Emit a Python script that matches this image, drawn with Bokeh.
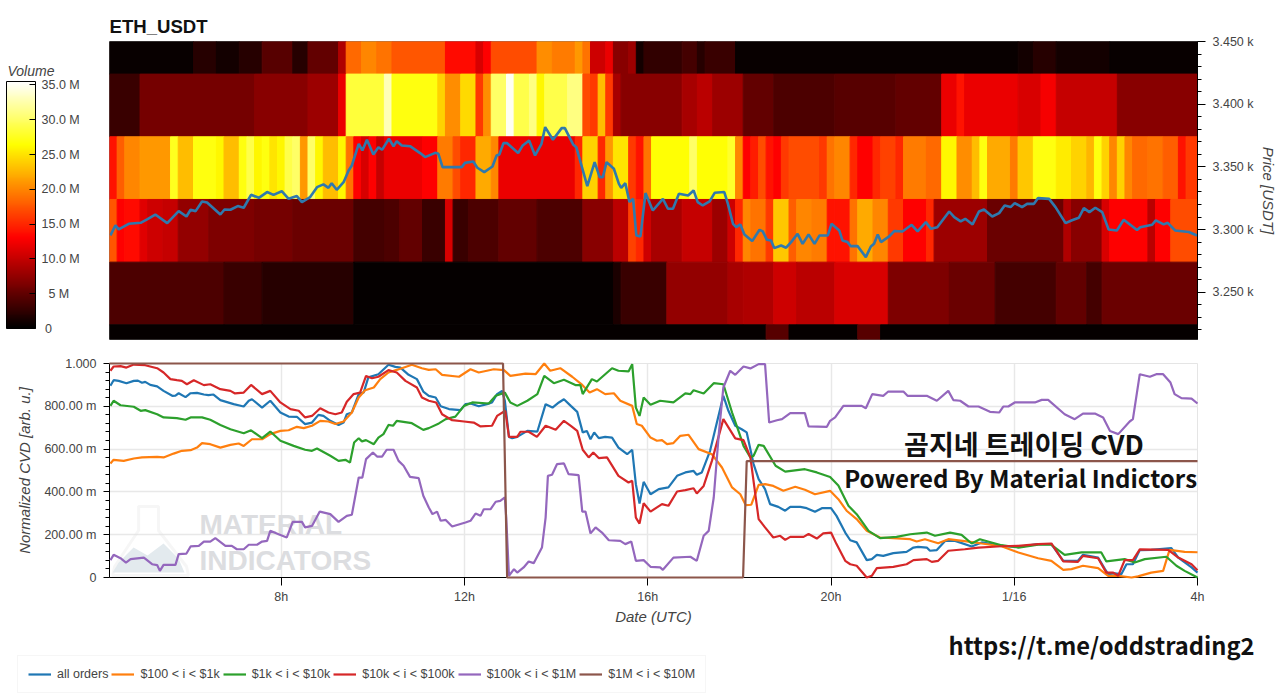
from bokeh.embed import file_html
from bokeh.layouts import column, row
from bokeh.models import (ColorBar, ColumnDataSource, FixedTicker, Label, Legend, LegendItem,
                          LinearColorMapper, PolyAnnotation)
from bokeh.plotting import figure
from bokeh.resources import INLINE

# ---- heat map: 10-minute bins, one list of run starts + volumes (millions) per price band
band_edges = [3450, 3424, 3374, 3324, 3274, 3224, 3212.3]
bins_total = 143

band1_start = [0, 11, 14, 17, 20, 24, 26, 30, 31, 33, 35, 37, 44, 48, 49, 50, 56, 58, 61, 62, 63, 65, 66, 68, 69, 70, 75, 77, 78, 82, 119, 121, 124, 131]
band1_vol = [.5, 2, 1, 2, 4.5, 2, 5, 9, 18.5, 20, 19, 17.5, 13.5, 11, 13, 17, 20.5, 19.5, 21, 19, 10.5, 12, 7, 8, 1, 2.5, 3.5, 2, 3, .5, 1, 2, 1, .5]

band2_start = [0, 4, 19, 26, 30, 31, 36, 37, 43, 44, 46, 48, 49, 50, 52, 53, 55, 56, 57, 60, 62, 63, 64, 65, 66, 67, 75, 77, 79, 83, 87, 95, 103, 109, 111, 112, 119, 122, 124, 132]
band2_vol = [3, 6, 7, 8, 12, 28.5, 33, 27, 24, 20.5, 24.5, 16, 20.5, 30, 35, 29, 31, 26, 29, 31, 17, 16, 23, 16, 8.5, 7, 8.5, 9.5, 8, 5, 4, 4.5, 5, 12, 14, 12, 11, 12.5, 10, 7]

band3_start = [0, 1, 2, 4, 8, 9, 11, 14, 15, 17, 18, 19, 20, 21, 22, 23, 24, 25, 26, 27, 28, 30, 31, 32, 33, 34, 35, 36, 41, 43, 45, 46, 48, 50, 51, 61, 62, 64, 65, 66, 68, 69, 70, 71, 76, 77, 81, 82, 83, 84, 85, 86, 87, 88, 89, 93, 94, 95, 97, 98, 100, 101, 103, 104, 107, 109, 111, 113, 114, 115, 118, 119, 121, 124, 126, 128, 129, 130, 131, 132, 133, 134, 136, 138, 140, 141]
band3_vol = [14, 18, 20, 21, 27.5, 23, 27, 26, 23, 27, 29, 26, 27, 25, 26, 29, 30, 21, 30, 26, 23, 26, 19, 13, 11, 13, 10, 12, 13, 19.5, 17, 15, 22, 20, 12, 15, 24, 15, 21, 25, 16, 14, 19, 26.5, 30, 26.5, 28, 20, 13, 14.5, 17, 14, 13, 16, 17, 16, 19, 20, 15, 13, 15, 16.5, 15, 19.5, 18.5, 26, 20.5, 23, 27, 22, 19.5, 23.5, 27, 25.5, 24, 22.5, 27, 24, 20, 24, 20, 18.5, 19, 18, 14, 16]

band4_start = [0, 1, 2, 4, 5, 7, 9, 13, 19, 24, 32, 36, 38, 41, 44, 45, 47, 51, 56, 62, 66, 68, 69, 70, 71, 75, 79, 81, 82, 83, 84, 86, 87, 89, 90, 92, 94, 95, 97, 98, 100, 102, 104, 107, 108, 115, 125, 126, 130, 131, 136, 137, 139]
band4_vol = [17.5, 13, 13.5, 11.5, 10.5, 10, 7.5, 6.5, 6, 5.5, 3.5, 4, 5, 3, 11, 3, 4, 5, 4, 7, 9.5, 16.5, 15, 10.5, 8.5, 10, 8, 10.5, 15, 20, 19, 16, 23.5, 18, 20, 19.5, 14, 14, 19, 22, 20, 16, 13, 15, 8, 5.5, 9, 7, 11, 13, 9.5, 13, 17]

band5_start = [0, 15, 20, 32, 66, 67, 73, 81, 83, 87, 90, 95, 102, 110, 116, 124, 128, 130]
band5_vol = [4, 3, 2, .4, 1.5, 3, 7.5, 8.5, 9, 10.5, 9.5, 11, 6.5, 5.5, 3.5, 5, 3.5, 5.5]

band6_start = [0, 86, 89, 98, 101]
band6_vol = [.3, 4.5, .3, 4.5, .3]

# ---- price line
price_hours = [4.27, 4.38, 4.45, 4.67, 4.93, 5.07, 5.25, 5.51, 5.76, 5.93, 6.02, 6.13, 6.27, 6.38, 6.67, 6.76, 6.89, 7.05, 7.18, 7.34, 7.51, 7.69, 7.83, 8.01, 8.16, 8.34, 8.45, 8.63, 8.78, 8.92, 9.03, 9.1, 9.21, 9.36, 9.47, 9.54, 9.69, 9.77, 9.87, 10.01, 10.12, 10.2, 10.35, 10.45, 10.52, 10.63, 10.81, 11.03, 11.14, 11.36, 11.43, 11.52, 11.94, 12.01, 12.19, 12.28, 12.43, 12.61, 12.7, 12.76, 12.85, 12.93, 13.17, 13.27, 13.41, 13.54, 13.68, 13.76, 13.93, 14.12, 14.19, 14.37, 14.44, 14.68, 14.84, 14.95, 15.02, 15.1, 15.26, 15.37, 15.42, 15.51, 15.6, 15.68, 15.75, 15.84, 15.95, 16.11, 16.33, 16.44, 16.55, 16.68, 16.88, 17, 17.09, 17.2, 17.35, 17.46, 17.67, 17.75, 17.86, 17.93, 18.02, 18.11, 18.28, 18.44, 18.51, 18.6, 18.69, 18.76, 18.91, 19.02, 19.13, 19.27, 19.38, 19.51, 19.64, 19.75, 19.93, 20.01, 20.18, 20.25, 20.36, 20.43, 20.58, 20.76, 20.87, 20.94, 21.02, 21.09, 21.27, 21.38, 21.56, 21.76, 21.89, 22.07, 22.18, 22.32, 22.58, 22.69, 22.83, 22.93, 23.09, 23.23, 23.34, 23.52, 23.67, 23.79, 23.92, 24.01, 24.17, 24.28, 24.43, 24.52, 24.76, 24.9, 25.12, 25.26, 25.41, 25.52, 25.64, 25.77, 25.92, 26.06, 26.24, 26.39, 26.68, 26.75, 27.01, 27.09, 27.26, 27.35, 27.51, 27.81, 27.99]
price_usdt = [3295.3, 3303.3, 3300.1, 3304.6, 3305.4, 3308.1, 3312, 3305.1, 3314.7, 3310.4, 3315.8, 3314.7, 3322.4, 3321.6, 3312, 3316, 3315.8, 3318.7, 3317.4, 3327.7, 3325.3, 3329.9, 3327.7, 3330.6, 3324.5, 3326.7, 3321.9, 3325.9, 3333.8, 3336, 3333.3, 3337, 3331.7, 3337.8, 3347.1, 3351.1, 3368.4, 3363.1, 3371.6, 3359.9, 3365.7, 3363.6, 3372.4, 3366.3, 3370.5, 3367.1, 3366.5, 3361, 3357.8, 3361.2, 3360.4, 3349.8, 3349.8, 3353.2, 3354.3, 3349.3, 3345.8, 3350.3, 3359.1, 3359.9, 3368.9, 3368.9, 3361, 3367.1, 3371.1, 3359.1, 3368.4, 3381.7, 3371.6, 3380.9, 3380.9, 3367.9, 3365.7, 3334.6, 3353.8, 3341.8, 3341.8, 3353.8, 3348.5, 3336.5, 3333.3, 3337, 3321.9, 3324.5, 3295.3, 3294.5, 3329.1, 3315.2, 3324.5, 3316.6, 3316.6, 3328.5, 3327.2, 3331.2, 3321.9, 3319.2, 3322.4, 3329.3, 3329.9, 3320.5, 3304.6, 3301.9, 3304.1, 3296.1, 3290.8, 3299.8, 3298.5, 3291.8, 3291.3, 3285.2, 3287.3, 3285.5, 3290, 3296.6, 3288.6, 3296, 3288.6, 3295.3, 3295.3, 3304.6, 3299.3, 3291.3, 3290, 3286.8, 3286.8, 3278, 3286.5, 3288.6, 3296.1, 3290, 3294.5, 3298.8, 3298.5, 3303.8, 3298.5, 3305.9, 3300.6, 3301.9, 3314.4, 3309.9, 3306.5, 3308.6, 3304.1, 3314.4, 3316, 3310.4, 3313.1, 3319.2, 3317.9, 3321.1, 3317.9, 3320.5, 3320.5, 3325.1, 3324.5, 3317.9, 3305.1, 3307.4, 3309.4, 3317.1, 3313.9, 3317.4, 3313.9, 3300.1, 3299.3, 3307.8, 3299.6, 3301.9, 3303.8, 3307.3, 3304.1, 3305.4, 3299.3, 3298, 3295.3]

# ---- normalised CVD series
all_hours = [4.27, 4.34, 4.45, 4.62, 4.78, 4.87, 4.96, 5.03, 5.14, 5.29, 5.43, 5.62, 5.69, 5.76, 5.91, 6.02, 6.16, 6.31, 6.41, 6.52, 6.67, 6.96, 7.18, 7.29, 7.36, 7.58, 7.76, 7.98, 8.16, 8.34, 8.52, 8.67, 8.81, 8.92, 9.07, 9.25, 9.36, 9.43, 9.54, 9.69, 9.8, 9.9, 10.12, 10.34, 10.49, 10.6, 10.78, 10.96, 11.1, 11.22, 11.37, 11.48, 11.66, 11.91, 12.02, 12.13, 12.31, 12.49, 12.6, 12.71, 12.82, 12.88, 12.97, 13.04, 13.15, 13.37, 13.59, 13.77, 13.92, 14.06, 14.17, 14.32, 14.46, 14.58, 14.67, 14.75, 14.83, 14.93, 15.07, 15.22, 15.36, 15.55, 15.66, 15.74, 15.82, 15.91, 16.06, 16.24, 16.45, 16.64, 16.82, 17, 17.07, 17.18, 17.36, 17.65, 17.76, 17.91, 18.05, 18.16, 18.31, 18.42, 18.56, 18.67, 18.85, 19, 19.11, 19.33, 19.47, 19.65, 19.8, 20, 20.12, 20.31, 20.42, 20.56, 20.78, 20.89, 21, 21.14, 21.36, 21.65, 21.8, 21.9, 22.09, 22.16, 22.31, 22.49, 22.71, 23.07, 23.29, 23.72, 24.09, 24.52, 24.81, 25.07, 25.39, 25.5, 25.83, 25.98, 26.05, 26.19, 26.34, 26.45, 26.59, 26.74, 26.99, 27.43, 27.58, 27.87, 28]
all_cvd = [.896, .922, .919, .908, .919, .92, .91, .914, .9, .893, .872, .849, .85, .861, .843, .861, .863, .855, .852, .855, .829, .81, .799, .826, .833, .794, .826, .771, .752, .751, .717, .724, .76, .755, .732, .713, .724, .763, .771, .857, .865, .935, .95, .994, .984, .981, .947, .927, .869, .849, .841, .8, .787, .782, .81, .813, .8, .81, .818, .857, .872, .826, .657, .651, .657, .685, .682, .81, .794, .818, .833, .802, .774, .678, .685, .646, .678, .651, .657, .654, .607, .576, .597, .436, .346, .447, .389, .413, .421, .475, .491, .498, .48, .491, .592, .849, .779, .709, .693, .678, .53, .46, .413, .343, .33, .312, .33, .33, .324, .307, .324, .324, .288, .21, .174, .164, .081, .086, .106, .101, .114, .12, .14, .143, .14, .125, .128, .171, .171, .145, .164, .148, .143, .156, .156, .078, .078, .106, .093, .039, .016, .019, .016, .062, .062, .128, .129, .137, .093, .047, .023]

s100_hours = [4.27, 4.34, 4.56, 4.78, 4.96, 5.29, 5.43, 5.65, 5.83, 6.02, 6.16, 6.27, 6.45, 6.67, 6.89, 7.07, 7.18, 7.36, 7.58, 7.76, 7.98, 8.16, 8.34, 8.49, 8.67, 8.85, 9.03, 9.18, 9.36, 9.54, 9.69, 9.83, 10.02, 10.16, 10.34, 10.52, 10.71, 10.85, 11.07, 11.22, 11.37, 11.51, 11.88, 12.13, 12.31, 12.64, 12.86, 13, 13.33, 13.55, 13.74, 13.87, 14.09, 14.35, 14.57, 14.73, 14.89, 15.07, 15.26, 15.4, 15.66, 15.76, 15.87, 16.06, 16.2, 16.31, 16.42, 16.56, 16.71, 16.89, 17.11, 17.4, 17.62, 17.84, 18.02, 18.14, 18.26, 18.42, 18.56, 18.74, 18.96, 19.22, 19.43, 19.65, 19.98, 20.16, 20.34, 20.56, 20.78, 20.93, 21.07, 21.73, 21.87, 22.05, 22.34, 22.56, 23, 23.29, 23.72, 24.09, 24.52, 24.81, 25.07, 25.25, 25.5, 25.83, 26.05, 26.27, 26.56, 26.7, 26.99, 27.25, 27.39, 27.72, 28]
s100_cvd = [.533, .55, .545, .556, .561, .564, .561, .579, .592, .595, .607, .628, .623, .607, .62, .626, .615, .646, .646, .67, .685, .688, .704, .698, .709, .732, .729, .717, .729, .771, .841, .875, .888, .927, .958, .97, .984, .994, .978, .97, .973, .947, .938, .973, .958, .973, .969, .942, .953, .95, 1.0, .966, .978, .938, .9, .864, .88, .857, .861, .826, .802, .717, .709, .654, .639, .642, .623, .628, .662, .667, .6, .576, .514, .421, .389, .338, .34, .433, .436, .428, .405, .424, .41, .389, .405, .366, .312, .273, .218, .202, .187, .179, .168, .179, .16, .179, .168, .159, .146, .117, .09, .078, .036, .039, .055, .044, .008, .008, 0, .005, .023, .031, .129, .12, .118]

s1k_hours = [4.27, 4.34, 4.49, 4.78, 4.93, 5.03, 5.29, 5.43, 5.72, 5.91, 6.02, 6.27, 6.45, 6.67, 6.89, 7.18, 7.34, 7.58, 7.76, 7.98, 8.27, 8.52, 8.67, 8.78, 9.07, 9.25, 9.4, 9.5, 9.59, 9.69, 9.76, 9.85, 10.02, 10.12, 10.23, 10.34, 10.44, 10.52, 10.85, 11.1, 11.22, 11.44, 11.59, 11.8, 11.99, 12.17, 12.53, 12.68, 12.88, 13, 13.15, 13.37, 13.59, 13.74, 13.95, 14.17, 14.42, 14.53, 14.58, 14.78, 14.89, 15.22, 15.36, 15.58, 15.66, 15.74, 15.82, 15.91, 16.06, 16.27, 16.56, 16.82, 16.93, 17, 17.22, 17.44, 17.65, 17.84, 17.98, 18.09, 18.24, 18.31, 18.42, 18.53, 18.79, 19, 19.43, 19.69, 19.98, 20.16, 20.38, 20.56, 20.82, 21.07, 21.43, 21.73, 22.09, 22.27, 22.6, 22.85, 23.07, 23.25, 23.72, 24.09, 24.52, 24.81, 25.1, 25.47, 25.9, 26.01, 26.41, 26.63, 26.85, 27.32, 27.54, 27.72, 28]
s1k_cvd = [.802, .826, .805, .798, .779, .782, .763, .748, .745, .737, .748, .748, .737, .713, .693, .674, .688, .651, .682, .639, .615, .597, .592, .603, .569, .545, .55, .537, .631, .651, .636, .642, .623, .654, .67, .713, .709, .732, .721, .69, .698, .72, .74, .752, .802, .818, .813, .849, .864, .818, .802, .826, .857, .942, .908, .924, .899, .899, .857, .927, .916, .978, .966, .963, .997, .794, .755, .841, .807, .826, .818, .86, .857, .875, .86, .908, .903, .771, .685, .615, .561, .569, .62, .615, .522, .495, .506, .491, .47, .43, .335, .296, .218, .184, .19, .202, .21, .195, .21, .199, .159, .179, .151, .14, .153, .153, .106, .117, .117, .075, .086, .07, .086, .097, .055, .031, 0]

s10k_hours = [4.27, 4.34, 4.49, 4.62, 4.78, 5.03, 5.29, 5.43, 5.58, 5.72, 5.83, 5.94, 6.09, 6.31, 6.45, 6.67, 6.89, 6.99, 7.18, 7.34, 7.58, 7.76, 7.98, 8.2, 8.38, 8.52, 8.67, 8.85, 9.03, 9.18, 9.32, 9.43, 9.58, 9.72, 9.85, 9.98, 10.12, 10.34, 10.52, 10.71, 10.96, 11.07, 11.22, 11.38, 11.51, 11.73, 11.99, 12.2, 12.35, 12.6, 12.71, 12.89, 12.97, 13.15, 13.22, 13.4, 13.58, 13.77, 13.99, 14.17, 14.32, 14.46, 14.58, 14.71, 14.81, 14.93, 15.11, 15.36, 15.58, 15.66, 15.74, 15.82, 15.91, 16.06, 16.31, 16.45, 16.64, 16.82, 17, 17.07, 17.22, 17.4, 17.65, 17.91, 18.09, 18.24, 18.42, 18.56, 18.74, 18.89, 19, 19.11, 19.4, 19.51, 19.69, 19.83, 20, 20.12, 20.31, 20.42, 20.56, 20.78, 20.89, 21, 21.36, 21.65, 21.8, 22.09, 22.2, 22.34, 22.56, 22.92, 23.22, 23.72, 24.09, 24.52, 24.81, 25.07, 25.39, 25.5, 25.83, 26.01, 26.16, 26.27, 26.41, 26.59, 26.74, 27.36, 27.58, 27.87, 28]
s10k_cvd = [.966, .986, .988, .981, .995, .992, .978, .958, .927, .922, .919, .903, .922, .899, .903, .88, .872, .86, .864, .9, .857, .872, .818, .787, .779, .748, .755, .791, .771, .763, .771, .821, .857, .864, .942, .931, .938, .969, .958, .919, .888, .841, .826, .818, .763, .735, .729, .724, .706, .709, .755, .779, .657, .657, .681, .681, .657, .709, .69, .732, .709, .685, .597, .561, .584, .558, .561, .475, .444, .452, .28, .252, .347, .308, .343, .335, .402, .408, .417, .393, .428, .545, .74, .65, .642, .561, .273, .234, .187, .195, .176, .19, .19, .203, .182, .206, .21, .156, .078, .062, .055, 0, .008, .044, .05, .062, .081, .086, .073, .078, .125, .132, .14, .146, .148, .156, .159, .075, .073, .101, .09, .023, .023, .008, .081, .081, .131, .129, .093, .062, .034]

s100k_hours = [4.27, 4.34, 4.49, 4.61, 4.71, 5, 5.18, 5.29, 5.35, 5.43, 5.69, 5.76, 5.93, 6.02, 6.2, 6.31, 6.45, 6.56, 6.78, 6.92, 7.03, 7.18, 7.29, 7.47, 7.58, 7.69, 7.76, 7.94, 8.12, 8.25, 8.45, 8.52, 8.67, 8.84, 9.07, 9.25, 9.43, 9.54, 9.69, 9.77, 9.85, 10, 10.09, 10.2, 10.3, 10.45, 10.56, 10.67, 10.81, 11, 11.1, 11.22, 11.3, 11.4, 11.48, 11.59, 11.73, 12.02, 12.13, 12.24, 12.35, 12.42, 12.57, 12.68, 12.78, 12.88, 12.91, 12.97, 13.08, 13.15, 13.29, 13.4, 13.51, 13.69, 13.77, 13.82, 13.91, 14.02, 14.17, 14.27, 14.49, 14.57, 14.64, 14.75, 14.86, 15, 15.15, 15.4, 15.51, 15.64, 15.74, 15.91, 16.06, 16.27, 16.33, 16.56, 16.93, 17.07, 17.22, 17.33, 17.44, 17.55, 17.65, 17.8, 17.91, 18.09, 18.24, 18.42, 18.56, 18.65, 18.82, 18.93, 19.11, 19.43, 19.51, 19.91, 19.98, 20.09, 20.27, 20.67, 20.76, 20.9, 21.14, 21.25, 21.58, 21.67, 22.09, 22.31, 22.56, 22.67, 22.82, 23, 23.22, 23.47, 23.67, 23.76, 23.87, 24.01, 24.45, 24.6, 24.74, 25.1, 25.32, 25.5, 25.76, 25.94, 26.09, 26.27, 26.52, 26.59, 26.74, 26.96, 27.1, 27.25, 27.41, 27.5, 27.65, 27.87, 28]
s100k_cvd = [.081, .106, .09, .07, .086, .093, .062, .058, .031, .059, .059, .109, .112, .145, .148, .168, .168, .184, .148, .148, .132, .132, .153, .153, .168, .171, .218, .202, .187, .26, .26, .234, .241, .308, .296, .26, .288, .293, .467, .467, .553, .584, .565, .565, .597, .597, .545, .522, .47, .464, .382, .327, .296, .308, .265, .269, .238, .257, .265, .299, .288, .319, .319, .354, .358, .374, .28, .008, .039, .023, .047, .075, .067, .14, .28, .475, .48, .53, .533, .483, .478, .308, .308, .206, .234, .21, .174, .171, .156, .168, .078, .081, .05, .047, .036, .093, .097, .078, .195, .218, .374, .67, .888, .966, .947, .986, .977, .997, .997, .724, .735, .74, .768, .768, .706, .704, .732, .748, .802, .802, .791, .857, .849, .869, .869, .849, .849, .826, .872, .829, .826, .799, .799, .774, .771, .799, .799, .818, .818, .83, .83, .763, .74, .766, .766, .748, .685, .67, .729, .74, .95, .938, .95, .95, .911, .857, .838, .836, .813]

s1m_hours = [4.25, 12.84, 12.93, 18.08, 18.16, 28]
s1m_cvd = [1, 1, 0, 0, .544, .544]

series_names = ["all orders", "$100 < i < $1k", "$1k < i < $10k", "$10k < i < $100k", "$100k < i < $1M", "$1M < i < $10M"]

cvd_ticks = [0, .2, .4, .6, .8, 1]
cvd_labels = ["0", "200.00 m", "400.00 m", "600.00 m", "800.00 m", "1.000"]
price_ticks = [3250, 3300, 3350, 3400, 3450]
price_labels = ["3.250 k", "3.300 k", "3.350 k", "3.400 k", "3.450 k"]
hour_ticks = [8, 12, 16, 20, 24, 28]
hour_labels = ["8h", "12h", "16h", "20h", "1/16", "4h"]
vol_ticks = [0, 5, 10, 15, 20, 25, 30, 35]
vol_labels = ["\u00a00", "\u00a0\u00a05 M", "10.0 M", "15.0 M", "20.0 M", "25.0 M", "30.0 M", "35.0 M"]

COLORS = ["#1f77b4", "#ff7f0e", "#2ca02c", "#d62728", "#9467bd", "#8c564b"]
SANS = "Liberation Sans"
KOREAN = "Noto Sans CJK KR"
GREY = "#444444"
START = 4.25
END = 28.0


def hot(n=256):
    out = []
    for i in range(n):
        t = i / (n - 1)
        r = min(1, t / 0.365)
        g = min(1, max(0, (t - 0.365) / 0.38))
        b = min(1, max(0, (t - 0.745) / 0.255))
        out.append("#%02x%02x%02x" % (int(r * 255), int(g * 255), int(b * 255)))
    return out


def px_x(x):  # reference pixel -> hours, for decorations only
    return 8 + (x - 281) / 45.9


def px_y(y):  # reference pixel -> CVD axis, for decorations only
    return (577 - y) / 214


mapper = LinearColorMapper(palette=hot(), low=0, high=35.5)

# ---- top panel
top = figure(width=1280, height=351, output_backend="svg", toolbar_location=None,
             x_range=(START, END), y_range=(3212.3, 3450), x_axis_location=None,
             y_axis_location="right", min_border_left=109, min_border_right=83,
             min_border_top=41, min_border_bottom=12, title="ETH_USDT",
             outline_line_color="#777777")
top.title.text_font = SANS
top.title.text_font_size = "18.6px"
top.title.text_font_style = "bold"
top.title.text_color = "#111111"
top.title.offset = 0
top.title.standoff = 10
top.grid.visible = False

left, right, low, high, vol = [], [], [], [], []
bands = [(band1_start, band1_vol), (band2_start, band2_vol), (band3_start, band3_vol),
         (band4_start, band4_vol), (band5_start, band5_vol), (band6_start, band6_vol)]
for k, (starts, vols) in enumerate(bands):
    ends = starts[1:] + [bins_total]
    for a, b, v in zip(starts, ends, vols):
        left.append(START + a / 6)
        right.append(min(END, START + b / 6))
        high.append(band_edges[k])
        low.append(band_edges[k + 1])
        vol.append(v)
heat = ColumnDataSource(dict(left=left, right=right, bottom=low, top=high, vol=vol))
fill = {"field": "vol", "transform": mapper}
top.quad(left="left", right="right", bottom="bottom", top="top", source=heat,
         fill_color=fill, line_color=fill, line_width=1)
top.line(price_hours, price_usdt, line_color="#2f79ad", line_width=2.6)

ax = top.yaxis[0]
ax.ticker = FixedTicker(ticks=price_ticks, num_minor_ticks=5)
ax.ticker.minor_ticks = [3450 - 10 * i for i in range(24) if (3450 - 10 * i) % 50]
ax.major_label_overrides = dict(zip(price_ticks, price_labels))
ax.axis_label = "Price [USDT]"
ax.axis_label_text_font = SANS
ax.axis_label_text_font_style = "italic"
ax.axis_label_text_font_size = "15px"
ax.axis_label_text_color = GREY
ax.axis_label_standoff = 3
ax.major_label_text_font = SANS
ax.major_label_text_font_size = "12.5px"
ax.major_label_text_color = GREY
ax.major_label_standoff = 7
ax.major_tick_out = 8
ax.major_tick_in = 0
ax.minor_tick_out = 4
ax.minor_tick_in = 0
ax.axis_line_color = "#000000"

bar = ColorBar(color_mapper=mapper, ticker=FixedTicker(ticks=vol_ticks),
               major_label_overrides=dict(zip(vol_ticks, vol_labels)),
               location=(-103, 11), width=29, height=247, padding=0, margin=0,
               major_label_text_font=SANS, major_label_text_font_size="12.5px",
               major_label_text_color=GREY, label_standoff=6,
               major_tick_line_color="#000000", major_tick_in=6, major_tick_out=0,
               bar_line_color="#000000", border_line_color=None, background_fill_color=None)
top.add_layout(bar, "center")

# a transparent one-label colour bar: the only text kind that survives left of the frame here
title_bar = ColorBar(color_mapper=LinearColorMapper(palette=["#ffffff"], low=0, high=1),
                     ticker=FixedTicker(ticks=[.5]), major_label_overrides={.5: "Volume"},
                     location=(-103, 267), width=1, height=4, padding=0, margin=0, scale_alpha=0,
                     major_label_text_font=SANS, major_label_text_font_size="14px",
                     major_label_text_font_style="italic", major_label_text_color=GREY,
                     label_standoff=0, major_tick_line_color=None, bar_line_color=None,
                     border_line_color=None, background_fill_color=None)
top.add_layout(title_bar, "center")

# ---- bottom panel
bot = figure(width=1280, height=276, output_backend="svg", toolbar_location=None,
             x_range=(START, END), y_range=(0, 1), min_border_left=109, min_border_right=82,
             min_border_top=12, min_border_bottom=50, outline_line_color="#e5e5e5")
bot.xgrid.ticker = FixedTicker(ticks=hour_ticks)
bot.ygrid.ticker = FixedTicker(ticks=cvd_ticks)
bot.grid.grid_line_color = "#e8e8e8"
bot.grid.grid_line_width = 1.5

for xs, ys in [([138, 158, 158, 186, 188, 112, 114, 138], [506, 506, 530, 566, 575, 575, 566, 530])]:
    bot.add_layout(PolyAnnotation(xs=[px_x(v) for v in xs], ys=[px_y(v) for v in ys],
                                  fill_alpha=0, line_color="#e2e2e2", line_width=3))
for xs, ys in [([118, 133, 147, 163, 178, 184, 112], [562, 547, 555, 543, 558, 572, 572])]:
    bot.add_layout(PolyAnnotation(xs=[px_x(v) for v in xs], ys=[px_y(v) for v in ys],
                                  fill_color="#e3eaee", fill_alpha=1, line_alpha=0))
for txt, yc in [("MATERIAL", 524), ("INDICATORS", 560)]:
    bot.add_layout(Label(x=px_x(199), y=px_y(yc), text=txt, text_font=SANS,
                         text_font_style="bold", text_font_size="28px", text_color="#dcdde0",
                         text_baseline="middle"))

lines = [(all_hours, all_cvd), (s100_hours, s100_cvd), (s1k_hours, s1k_cvd),
         (s10k_hours, s10k_cvd), (s100k_hours, s100k_cvd), (s1m_hours, s1m_cvd)]
for (xs, ys), c in zip(lines, COLORS):
    bot.line(xs, ys, line_color=c, line_width=2.2, level="overlay")

ax = bot.yaxis[0]
ax.ticker = FixedTicker(ticks=cvd_ticks, minor_ticks=[i / 25 for i in range(26) if i % 5])
ax.major_label_overrides = dict(zip(cvd_ticks, cvd_labels))
ax.axis_label = "Normalized CVD [arb. u.]"
ax.axis_label_standoff = 8
ax.major_label_standoff = 7
ax.major_tick_out = 6
ax.major_tick_in = 0
ax.minor_tick_out = 4
ax.minor_tick_in = 0
ax = bot.xaxis[0]
ax.ticker = FixedTicker(ticks=hour_ticks)
ax.major_label_overrides = dict(zip(hour_ticks, hour_labels))
ax.axis_label = "Date (UTC)"
ax.axis_label_standoff = 1
ax.major_label_standoff = 4
ax.major_tick_out = 8
ax.major_tick_in = 0
for ax in (bot.xaxis[0], bot.yaxis[0]):
    ax.axis_label_text_font = SANS
    ax.axis_label_text_font_style = "italic"
    ax.axis_label_text_font_size = "15px"
    ax.axis_label_text_color = GREY
    ax.major_label_text_font = SANS
    ax.major_label_text_font_size = "12.5px"
    ax.major_label_text_color = GREY
    ax.axis_line_color = "#000000"
    ax.major_tick_line_color = "#000000"
    ax.minor_tick_line_color = "#000000"

for txt, x, yc, size in [("곰지네 트레이딩 CVD", 905, 443, "27px"),
                         ("Powered By Material Indictors", 845, 477, "24px")]:
    bot.add_layout(Label(x=px_x(x), y=px_y(yc), text=txt, text_font=KOREAN, text_font_style="bold",
                         text_font_size=size, text_color="#111111", text_baseline="middle",
                         level="overlay"))

# ---- footer strip: legend and link (its range keeps the series themselves out of view)
foot = figure(width=1280, height=67, output_backend="svg", toolbar_location=None,
              x_range=(1000, 2000), y_range=(1000, 2000), x_axis_location=None, y_axis_location=None,
              min_border_left=0, min_border_right=0, min_border_top=0, min_border_bottom=0,
              outline_line_color=None)
foot.grid.visible = False
renderers = [foot.line(xs, ys, line_color=c, line_width=2.2) for (xs, ys), c in zip(lines, COLORS)]
legend = Legend(items=[LegendItem(label=n, renderers=[r]) for n, r in zip(series_names, renderers)],
                orientation="horizontal", location=(17, 1), margin=0, padding=10, spacing=3,
                glyph_width=23, glyph_height=16, label_standoff=6, label_height=16,
                label_text_font=SANS, label_text_font_size="12.5px", label_text_color=GREY,
                border_line_color="#eeeeee", background_fill_alpha=1)
foot.add_layout(legend, "center")
foot.add_layout(Label(x=948, y=50, x_units="screen", y_units="screen", text="https://t.me/oddstrading2",
                      text_font=KOREAN, text_font_style="bold", text_font_size="23.7px",
                      text_color="#111111", text_baseline="middle"))

page = column(column(top, bot, spacing=0), row(foot), spacing=0)
open("out.html", "w").write(file_html(page, INLINE))
